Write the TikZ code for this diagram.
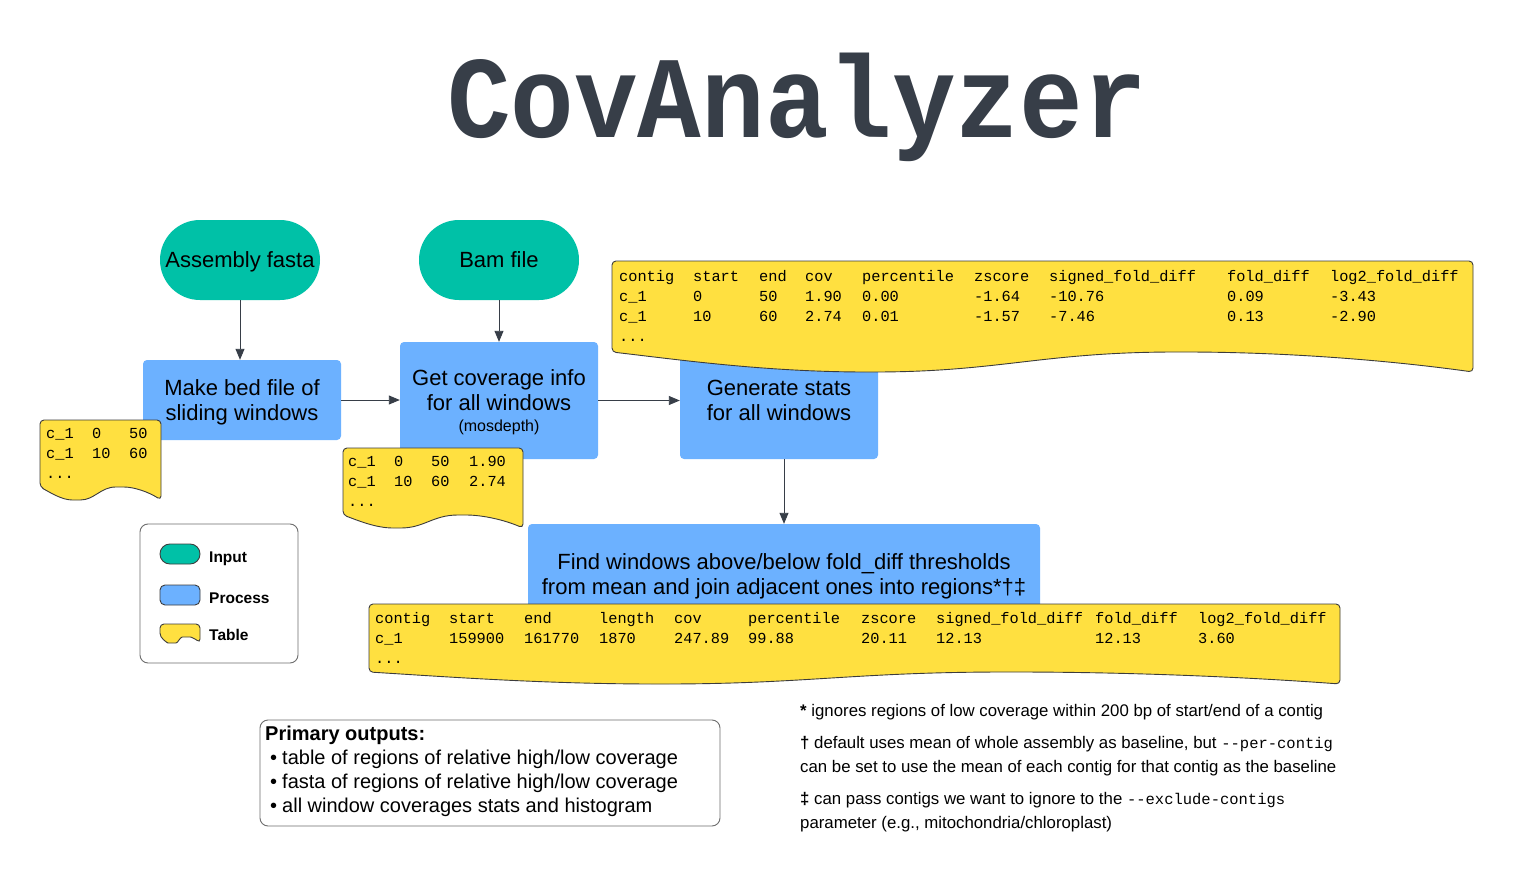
\documentclass[tikz,border=0pt]{standalone}
\usepackage{fontspec}
\setmainfont{Liberation Sans}
\setmonofont{Liberation Mono}
\newfontfamily\titlefont{Liberation Mono}
\usetikzlibrary{arrows.meta,calc}
\definecolor{inputc}{RGB}{0,193,167}
\definecolor{procc}{RGB}{108,177,255}
\definecolor{tablec}{RGB}{255,224,64}
\definecolor{darkc}{RGB}{55,62,72}
\definecolor{edgec}{RGB}{60,60,60}
\definecolor{framec}{RGB}{110,110,110}

\tikzset{
 inputbox/.style={fill=inputc, rounded corners=39.9pt, minimum width=160pt, minimum height=80pt, inner sep=0pt, text depth=0pt, font=\fontsize{22}{25}\selectfont},
 procbox/.style={fill=procc, rounded corners=4pt, inner sep=0pt, align=center, text depth=0pt, font=\fontsize{22}{25}\selectfont},
 tablebox/.style={fill=tablec, draw=edgec, line width=0.9pt, rounded corners=4pt},
 tabletext/.style={anchor=base west, inner sep=0pt, font=\ttfamily\fontsize{15.3}{20}\selectfont},
 arr/.style={draw=darkc, line width=0.9pt, -{Triangle[length=11pt,width=9pt]}},
 framebox/.style={draw=framec, line width=0.9pt, rounded corners=8pt, inner sep=0pt},
 legtext/.style={anchor=west, inner sep=0pt, font=\bfseries\fontsize{15.5}{18}\selectfont},
 note/.style={anchor=north west, inner sep=0pt, align=left, font=\fontsize{16.8}{24}\selectfont},
 notemono/.style={font=\ttfamily\fontsize{15.5}{24}\selectfont},
}

% document (table) shape: x1, ytop, x2, ybottom, wave depth
\newcommand\docshape[5]{%
 \pgfmathsetmacro\dw{#3-#1}%
 \draw[tablebox] (#1,#2) -- (#3,#2) -- (#3,#4)
 .. controls ({#1+0.9*\dw},{#4-0.6*#5}) and ({#1+0.78*\dw},{#4-#5}) .. ({#1+0.66*\dw},{#4-#5})
 .. controls ({#1+0.5*\dw},{#4-#5}) and ({#1+0.45*\dw},#4) .. ({#1+0.3*\dw},#4)
 .. controls ({#1+0.18*\dw},#4) and ({#1+0.08*\dw},{#4-0.6*#5}) .. (#1,{#4-#5}) -- cycle;}
\newcommand\monotext[1]{{\ttfamily\fontsize{15.5}{24}\selectfont #1}}

\begin{document}
\begin{tikzpicture}[x=1pt,y=-1pt]
\useasboundingbox (0,0) rectangle (1513,880);
\fill[white] (0,0) rectangle (1513,880);

% title
\node[anchor=base, inner sep=0pt, text=darkc, font=\titlefont\bfseries\fontsize{106}{110}\selectfont] (title) at (797,138) {\scalebox{1}[1.1]{CovAnalyzer}};

% inputs
\node[inputbox] (asm) at (240,260) {Assembly fasta};
\node[inputbox] (bam) at (499,260) {Bam file};

% processes
\node[procbox, minimum width=198pt, minimum height=80pt] (bed) at (242,400) {Make bed file of\\sliding windows};
\node[procbox, minimum width=198pt, minimum height=117pt] (cov) at (499,400.5) {Get coverage info\\for all windows\\[-4pt]{\fontsize{16}{18}\selectfont (mosdepth)}};
\node[procbox, minimum width=198pt, minimum height=117pt] (stats) at (779,400.5) {Generate stats\\for all windows};
\node[procbox, minimum width=512pt, minimum height=100pt] (find) at (784,574) {Find windows above/below fold\_diff thresholds\\from mean and join adjacent ones into regions*†‡};

% connectors
\draw[arr] (asm.south) -- (asm.south |- bed.north);
\draw[arr] (bam.south) -- (cov.north);
\draw[arr] (bed.east) -- (bed.east -| cov.west);
\draw[arr] (cov.east) -- (stats.west);
\draw[arr] (stats.south -| find.north) -- (find.north);

% tables
\docshape{40}{420}{161}{500}{13}
\node[tabletext] (tabA) at (46,438) {\begin{tabular}[t]{@{}p{46pt}@{}p{37pt}@{}l@{}}
c\_1 & 0 & 50\\
c\_1 & 10 & 60\\
... & & \\
\end{tabular}};

\docshape{343}{448}{523}{528}{13}
\node[tabletext] (tabB) at (348,466) {\begin{tabular}[t]{@{}p{46pt}@{}p{37pt}@{}p{38pt}@{}l@{}}
c\_1 & 0 & 50 & 1.90\\
c\_1 & 10 & 60 & 2.74\\
... & & & \\
\end{tabular}};

\docshape{612}{261}{1473}{372}{20}
\node[tabletext] (tabC) at (619,281) {\begin{tabular}[t]{@{}p{74pt}@{}p{66pt}@{}p{46pt}@{}p{57pt}@{}p{112pt}@{}p{75pt}@{}p{178pt}@{}p{103pt}@{}l@{}}
contig & start & end & cov & percentile & zscore & signed\_fold\_diff & fold\_diff & log2\_fold\_diff\\
c\_1 & 0 & 50 & 1.90 & 0.00 & -1.64 & -10.76 & 0.09 & -3.43\\
c\_1 & 10 & 60 & 2.74 & 0.01 & -1.57 & -7.46 & 0.13 & -2.90\\
... & & & & & & & & \\
\end{tabular}};

\docshape{369}{604}{1340}{684}{12}
\node[tabletext] (tabD) at (375,623) {\begin{tabular}[t]{@{}p{74pt}@{}p{75pt}@{}p{75pt}@{}p{75pt}@{}p{74pt}@{}p{113pt}@{}p{75pt}@{}p{159pt}@{}p{103pt}@{}l@{}}
contig & start & end & length & cov & percentile & zscore & signed\_fold\_diff & fold\_diff & log2\_fold\_diff\\
c\_1 & 159900 & 161770 & 1870 & 247.89 & 99.88 & 20.11 & 12.13 & 12.13 & 3.60\\
... & & & & & & & & & \\
\end{tabular}};

% legend
\node[framebox, minimum width=158pt, minimum height=139pt] (legend) at (219,593.5) {};
\node[fill=inputc, draw=edgec, line width=0.9pt, rounded corners=9.9pt, minimum width=40pt, minimum height=20pt, inner sep=0pt] (legin) at (180,554) {};
\node[fill=procc, draw=edgec, line width=0.9pt, rounded corners=5pt, minimum width=40pt, minimum height=20pt, inner sep=0pt] (legproc) at (180,595) {};
\docshape{160}{624}{200}{643}{6}
\node[legtext] (legintext) at (209,559) {Input};
\node[legtext] (legproctext) at (209,598) {Process};
\node[legtext] (legtabtext) at (209,635) {Table};

% primary outputs
\node[framebox, minimum width=460pt, minimum height=106pt] (outbox) at (490,773) {};
\node[anchor=north west, inner sep=0pt, align=left, font=\fontsize{20}{24}\selectfont] (outtext) at (265,726) {\textbf{Primary outputs:}\\
\hspace*{5pt}\textbullet\hspace*{5pt}table of regions of relative high/low coverage\\
\hspace*{5pt}\textbullet\hspace*{5pt}fasta of regions of relative high/low coverage\\
\hspace*{5pt}\textbullet\hspace*{5pt}all window coverages stats and histogram};

% footnotes
\node[note] (fn1) at (800,704) {\textbf{*} ignores regions of low coverage within 200 bp of start/end of a contig};
\node[note] (fn2) at (800,736) {\textbf{†} default uses mean of whole assembly as baseline, but \monotext{-{}-per-contig}\\can be set to use the mean of each contig for that contig as the baseline};
\node[note] (fn3) at (800,792) {\textbf{‡} can pass contigs we want to ignore to the \monotext{-{}-exclude-contigs}\\parameter (e.g., mitochondria/chloroplast)};
\end{tikzpicture}
\end{document}
